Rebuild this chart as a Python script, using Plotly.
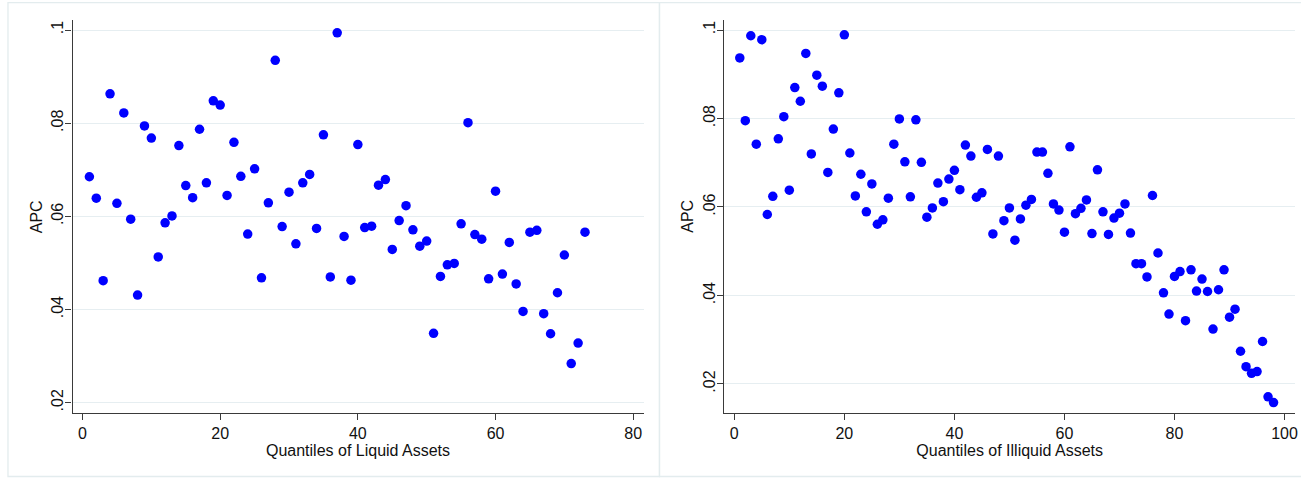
import plotly.graph_objects as go

# Left panel: quantiles of liquid assets
liquid_q = list(range(1, 74))
liquid_apc = [
    0.0685, 0.0639, 0.0462, 0.0863, 0.0628, 0.0822, 0.0594, 0.0431, 0.0794, 0.0768,
    0.0513, 0.0586, 0.0601, 0.0752, 0.0666, 0.0640, 0.0787, 0.0672, 0.0848, 0.0839,
    0.0645, 0.0759, 0.0686, 0.0562, 0.0702, 0.0468, 0.0629, 0.0935, 0.0578, 0.0652,
    0.0541, 0.0672, 0.0690, 0.0574, 0.0775, 0.0470, 0.0994, 0.0557, 0.0463, 0.0754,
    0.0576, 0.0579, 0.0667, 0.0679, 0.0529, 0.0591, 0.0623, 0.0571, 0.0536, 0.0547,
    0.0349, 0.0471, 0.0496, 0.0499, 0.0584, 0.0801, 0.0561, 0.0551, 0.0466, 0.0654,
    0.0476, 0.0544, 0.0455, 0.0396, 0.0566, 0.0570, 0.0391, 0.0348, 0.0436, 0.0517,
    0.0284, 0.0328, 0.0566,
]

# Right panel: quantiles of illiquid assets
illiquid_q = list(range(1, 99))
illiquid_apc = [
    0.0937, 0.0795, 0.0987, 0.0742, 0.0978, 0.0583, 0.0624, 0.0754, 0.0804, 0.0638,
    0.0870, 0.0839, 0.0947, 0.0720, 0.0898, 0.0873, 0.0678, 0.0776, 0.0858, 0.0989,
    0.0722, 0.0625, 0.0674, 0.0589, 0.0652, 0.0561, 0.0571, 0.0620, 0.0742, 0.0799,
    0.0702, 0.0623, 0.0797, 0.0701, 0.0577, 0.0598, 0.0654, 0.0612, 0.0663, 0.0683,
    0.0639, 0.0740, 0.0715, 0.0622, 0.0632, 0.0730, 0.0539, 0.0715, 0.0569, 0.0598,
    0.0525, 0.0573, 0.0604, 0.0617, 0.0724, 0.0724, 0.0676, 0.0607, 0.0593, 0.0543,
    0.0736, 0.0585, 0.0597, 0.0616, 0.0540, 0.0684, 0.0589, 0.0538, 0.0575, 0.0586,
    0.0607, 0.0541, 0.0472, 0.0472, 0.0442, 0.0626, 0.0496, 0.0406, 0.0358, 0.0443,
    0.0454, 0.0343, 0.0458, 0.0410, 0.0437, 0.0409, 0.0324, 0.0413, 0.0458, 0.0351,
    0.0369, 0.0274, 0.0239, 0.0224, 0.0228, 0.0296, 0.0171, 0.0158,
]

y_tickvals = [0.02, 0.04, 0.06, 0.08, 0.1]
y_ticktext = [".02", ".04", ".06", ".08", ".1"]
left_xticks = [0, 20, 40, 60, 80]
right_xticks = [0, 20, 40, 60, 80, 100]

W, H = 1301, 478
FONT = "Liberation Sans, Arial, sans-serif"
AXIS_COLOR = "#3a3a3a"
GRID_COLOR = "#e6eef1"

fig = go.Figure()
fig.add_trace(go.Scatter(
    x=liquid_q, y=liquid_apc, mode="markers",
    marker=dict(color="#0000ff", size=9.5, line=dict(width=0)),
    xaxis="x", yaxis="y", showlegend=False, hoverinfo="x+y",
))
fig.add_trace(go.Scatter(
    x=illiquid_q, y=illiquid_apc, mode="markers",
    marker=dict(color="#0000ff", size=9.5, line=dict(width=0)),
    xaxis="x2", yaxis="y2", showlegend=False, hoverinfo="x+y",
))

ydom = [1 - 412.7 / H, 1 - 20 / H]
ymid = (ydom[0] + ydom[1]) / 2

common_x = dict(
    showline=True, linecolor=AXIS_COLOR, linewidth=1.3, mirror=False,
    ticks="outside", ticklen=6, tickcolor=AXIS_COLOR, tickwidth=1.3,
    showgrid=False, zeroline=False,
    tickfont=dict(family=FONT, size=16, color="#111"),
    title_font=dict(family=FONT, size=16, color="#111"),
    ticklabelstandoff=0,
)
common_y = dict(
    showline=True, linecolor=AXIS_COLOR, linewidth=1.3, mirror=False,
    ticks="outside", ticklen=6, tickcolor=AXIS_COLOR, tickwidth=1.3,
    showgrid=True, gridcolor=GRID_COLOR, gridwidth=1.3, zeroline=False,
    tickvals=y_tickvals, ticktext=y_ticktext, tickangle=-90,
    tickfont=dict(family=FONT, size=16, color="#111"),
    ticklabelstandoff=-4,
)

fig.update_layout(
    width=W, height=H,
    margin=dict(l=0, r=0, t=0, b=0),
    paper_bgcolor="white", plot_bgcolor="white",
    xaxis=dict(common_x, domain=[72.7 / W, 645 / W], range=[-1.45, 81.5],
               tickvals=left_xticks, anchor="y",
               title=dict(text="Quantiles of Liquid Assets", standoff=0)),
    yaxis=dict(common_y, domain=ydom, range=[0.01785, 0.10215], anchor="x"),
    xaxis2=dict(common_x, domain=[726 / W, 1298 / W], range=[-1.81, 101.9],
                tickvals=right_xticks, anchor="y2",
                title=dict(text="Quantiles of Illiquid Assets", standoff=0)),
    yaxis2=dict(common_y, domain=ydom, range=[0.01351, 0.10226], anchor="x2"),
    annotations=[
        dict(text="APC", xref="paper", yref="paper", x=36 / W, y=ymid,
             textangle=-90, showarrow=False, xanchor="center", yanchor="middle",
             font=dict(family=FONT, size=16, color="#111")),
        dict(text="APC", xref="paper", yref="paper", x=689 / W, y=ymid,
             textangle=-90, showarrow=False, xanchor="center", yanchor="middle",
             font=dict(family=FONT, size=16, color="#111")),
    ],
    shapes=[
        dict(type="rect", xref="paper", yref="paper",
             x0=8 / W, x1=661 / W, y0=1 - 476.5 / H, y1=1 - 2.7 / H,
             line=dict(color="#e3ecee", width=1.3), layer="below"),
        dict(type="rect", xref="paper", yref="paper",
             x0=661 / W, x1=1.02, y0=1 - 476.5 / H, y1=1 - 2.7 / H,
             line=dict(color="#e3ecee", width=1.3), layer="below"),
    ],
)

fig.write_html("out.html")
